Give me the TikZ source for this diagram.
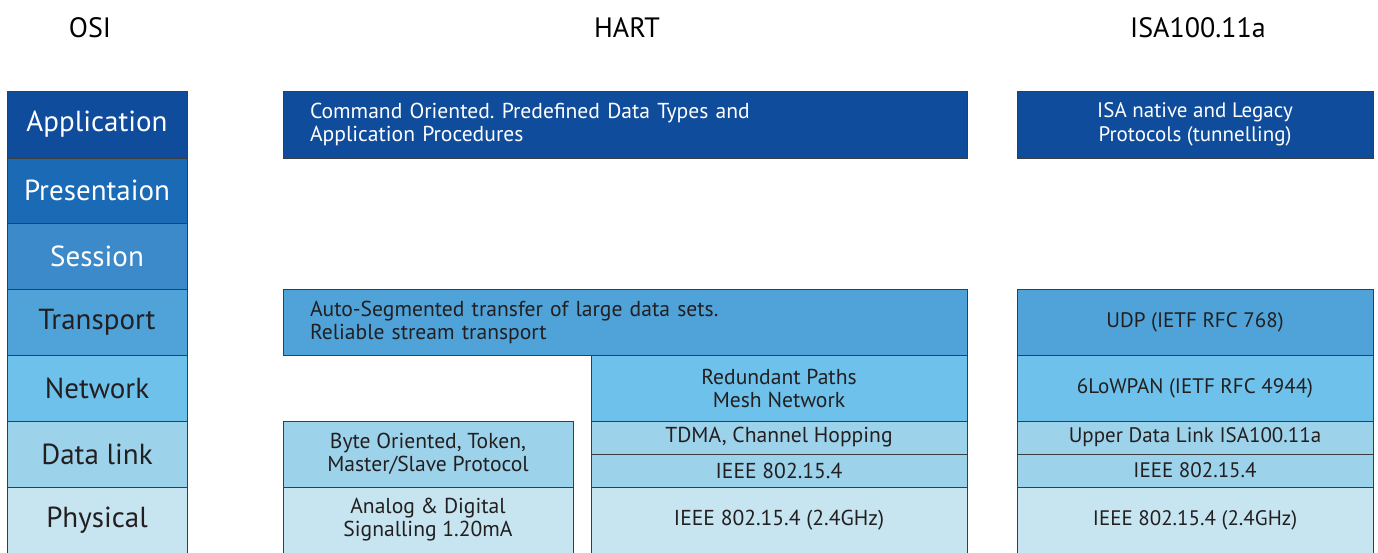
\documentclass[tikz,border=0pt]{standalone}
\usepackage{fontspec}
\setmainfont{PT Sans}
\frenchspacing
\definecolor{cA}{HTML}{0F4C9B}
\definecolor{cP}{HTML}{1B6AB5}
\definecolor{cS}{HTML}{3C8ACA}
\definecolor{cT}{HTML}{4FA3D8}
\definecolor{cN}{HTML}{6EC1EA}
\definecolor{cD}{HTML}{9DD2EB}
\definecolor{cY}{HTML}{C7E5F1}
\definecolor{edge}{HTML}{3A3D42}
\definecolor{ink}{HTML}{231F20}
\tikzset{
  layer/.style={draw=edge, line width=0.8pt, rectangle, anchor=north west, inner sep=0pt, outer sep=0pt, align=center},
  osil/.style={layer, minimum width=180pt, font=\fontsize{29}{32}\selectfont},
  boxtxt/.style={font=\fontsize{21}{23.5}\selectfont},
  htxt/.style={font=\fontsize{21.6}{23}\selectfont},
  wide/.style={layer, htxt, minimum height=#1, text width=630pt, inner xsep=27pt, align=left},
  hdr/.style={font=\fontsize{28}{30}\selectfont, text=black},
}
\begin{document}
\begin{tikzpicture}[x=1pt, y=-1pt]
\useasboundingbox (0,0) rectangle (1378,552);
\clip (0,0) rectangle (1378,552);
\fill[white] (0,0) rectangle (1378,552);
% headers
\node[hdr] (hOSI) at (90,28) {OSI};
\node[hdr] (hHART) at (627,28) {HART};
\node[hdr] (hISA) at (1198,28) {ISA100.11a};
% OSI column
\node[osil, fill=cA, text=white, minimum height=67pt] (oA) at (7,91) {Application};
\node[osil, fill=cP, text=white, minimum height=65pt] (oP) at (7,158) {Presentaion};
\node[osil, fill=cS, text=white, minimum height=66pt] (oS) at (7,223) {Session};
\node[osil, fill=cT, text=ink, minimum height=66pt] (oT) at (7,289) {Transport};
\node[osil, fill=cN, text=ink, minimum height=66pt] (oN) at (7,355) {Network};
\node[osil, fill=cD, text=ink, minimum height=66pt] (oD) at (7,421) {Data link};
\node[osil, fill=cY, text=ink, minimum height=66pt] (oY) at (7,487) {Physical};
% HART column
\node[wide=67pt, fill=cA, text=white] (hApp) at (283,91) {Command Oriented. Predefined Data Types and\\Application Procedures};
\node[wide=66pt, fill=cT, text=ink] (hTr) at (283,289) {Auto-Segmented transfer of large data sets.\\Reliable stream transport};
\node[layer, htxt, fill=cN, text=ink, minimum width=376pt, minimum height=66pt] (hNet) at (591,355) {Redundant Paths\\Mesh Network};
\node[layer, htxt, fill=cD, text=ink, minimum width=376pt, minimum height=33pt] (hTdma) at (591,421) {TDMA, Channel Hopping};
\node[layer, htxt, fill=cD, text=ink, minimum width=376pt, minimum height=33pt] (hIeee) at (591,454) {IEEE 802.15.4};
\node[layer, htxt, fill=cY, text=ink, minimum width=376pt, minimum height=66pt] (hPhy) at (591,487) {IEEE 802.15.4 (2.4GHz)};
\node[layer, htxt, fill=cD, text=ink, minimum width=290pt, minimum height=66pt] (hByte) at (283,421) {Byte Oriented, Token,\\Master/Slave Protocol};
\node[layer, htxt, fill=cY, text=ink, minimum width=290pt, minimum height=66pt] (hAna) at (283,487) {Analog \& Digital\\Signalling 1.20mA};
% ISA100.11a column
\node[layer, boxtxt, fill=cA, text=white, minimum width=356pt, minimum height=67pt] (iApp) at (1017,91) {ISA native and Legacy\\Protocols (tunnelling)};
\node[layer, boxtxt, fill=cT, text=ink, minimum width=356pt, minimum height=66pt] (iUdp) at (1017,289) {UDP (IETF RFC 768)};
\node[layer, boxtxt, fill=cN, text=ink, minimum width=356pt, minimum height=66pt] (iLow) at (1017,355) {6LoWPAN (IETF RFC 4944)};
\node[layer, boxtxt, fill=cD, text=ink, minimum width=356pt, minimum height=33pt] (iUp) at (1017,421) {Upper Data Link ISA100.11a};
\node[layer, boxtxt, fill=cD, text=ink, minimum width=356pt, minimum height=33pt] (iIeee) at (1017,454) {IEEE 802.15.4};
\node[layer, boxtxt, fill=cY, text=ink, minimum width=356pt, minimum height=66pt] (iPhy) at (1017,487) {IEEE 802.15.4 (2.4GHz)};
\end{tikzpicture}
\end{document}
